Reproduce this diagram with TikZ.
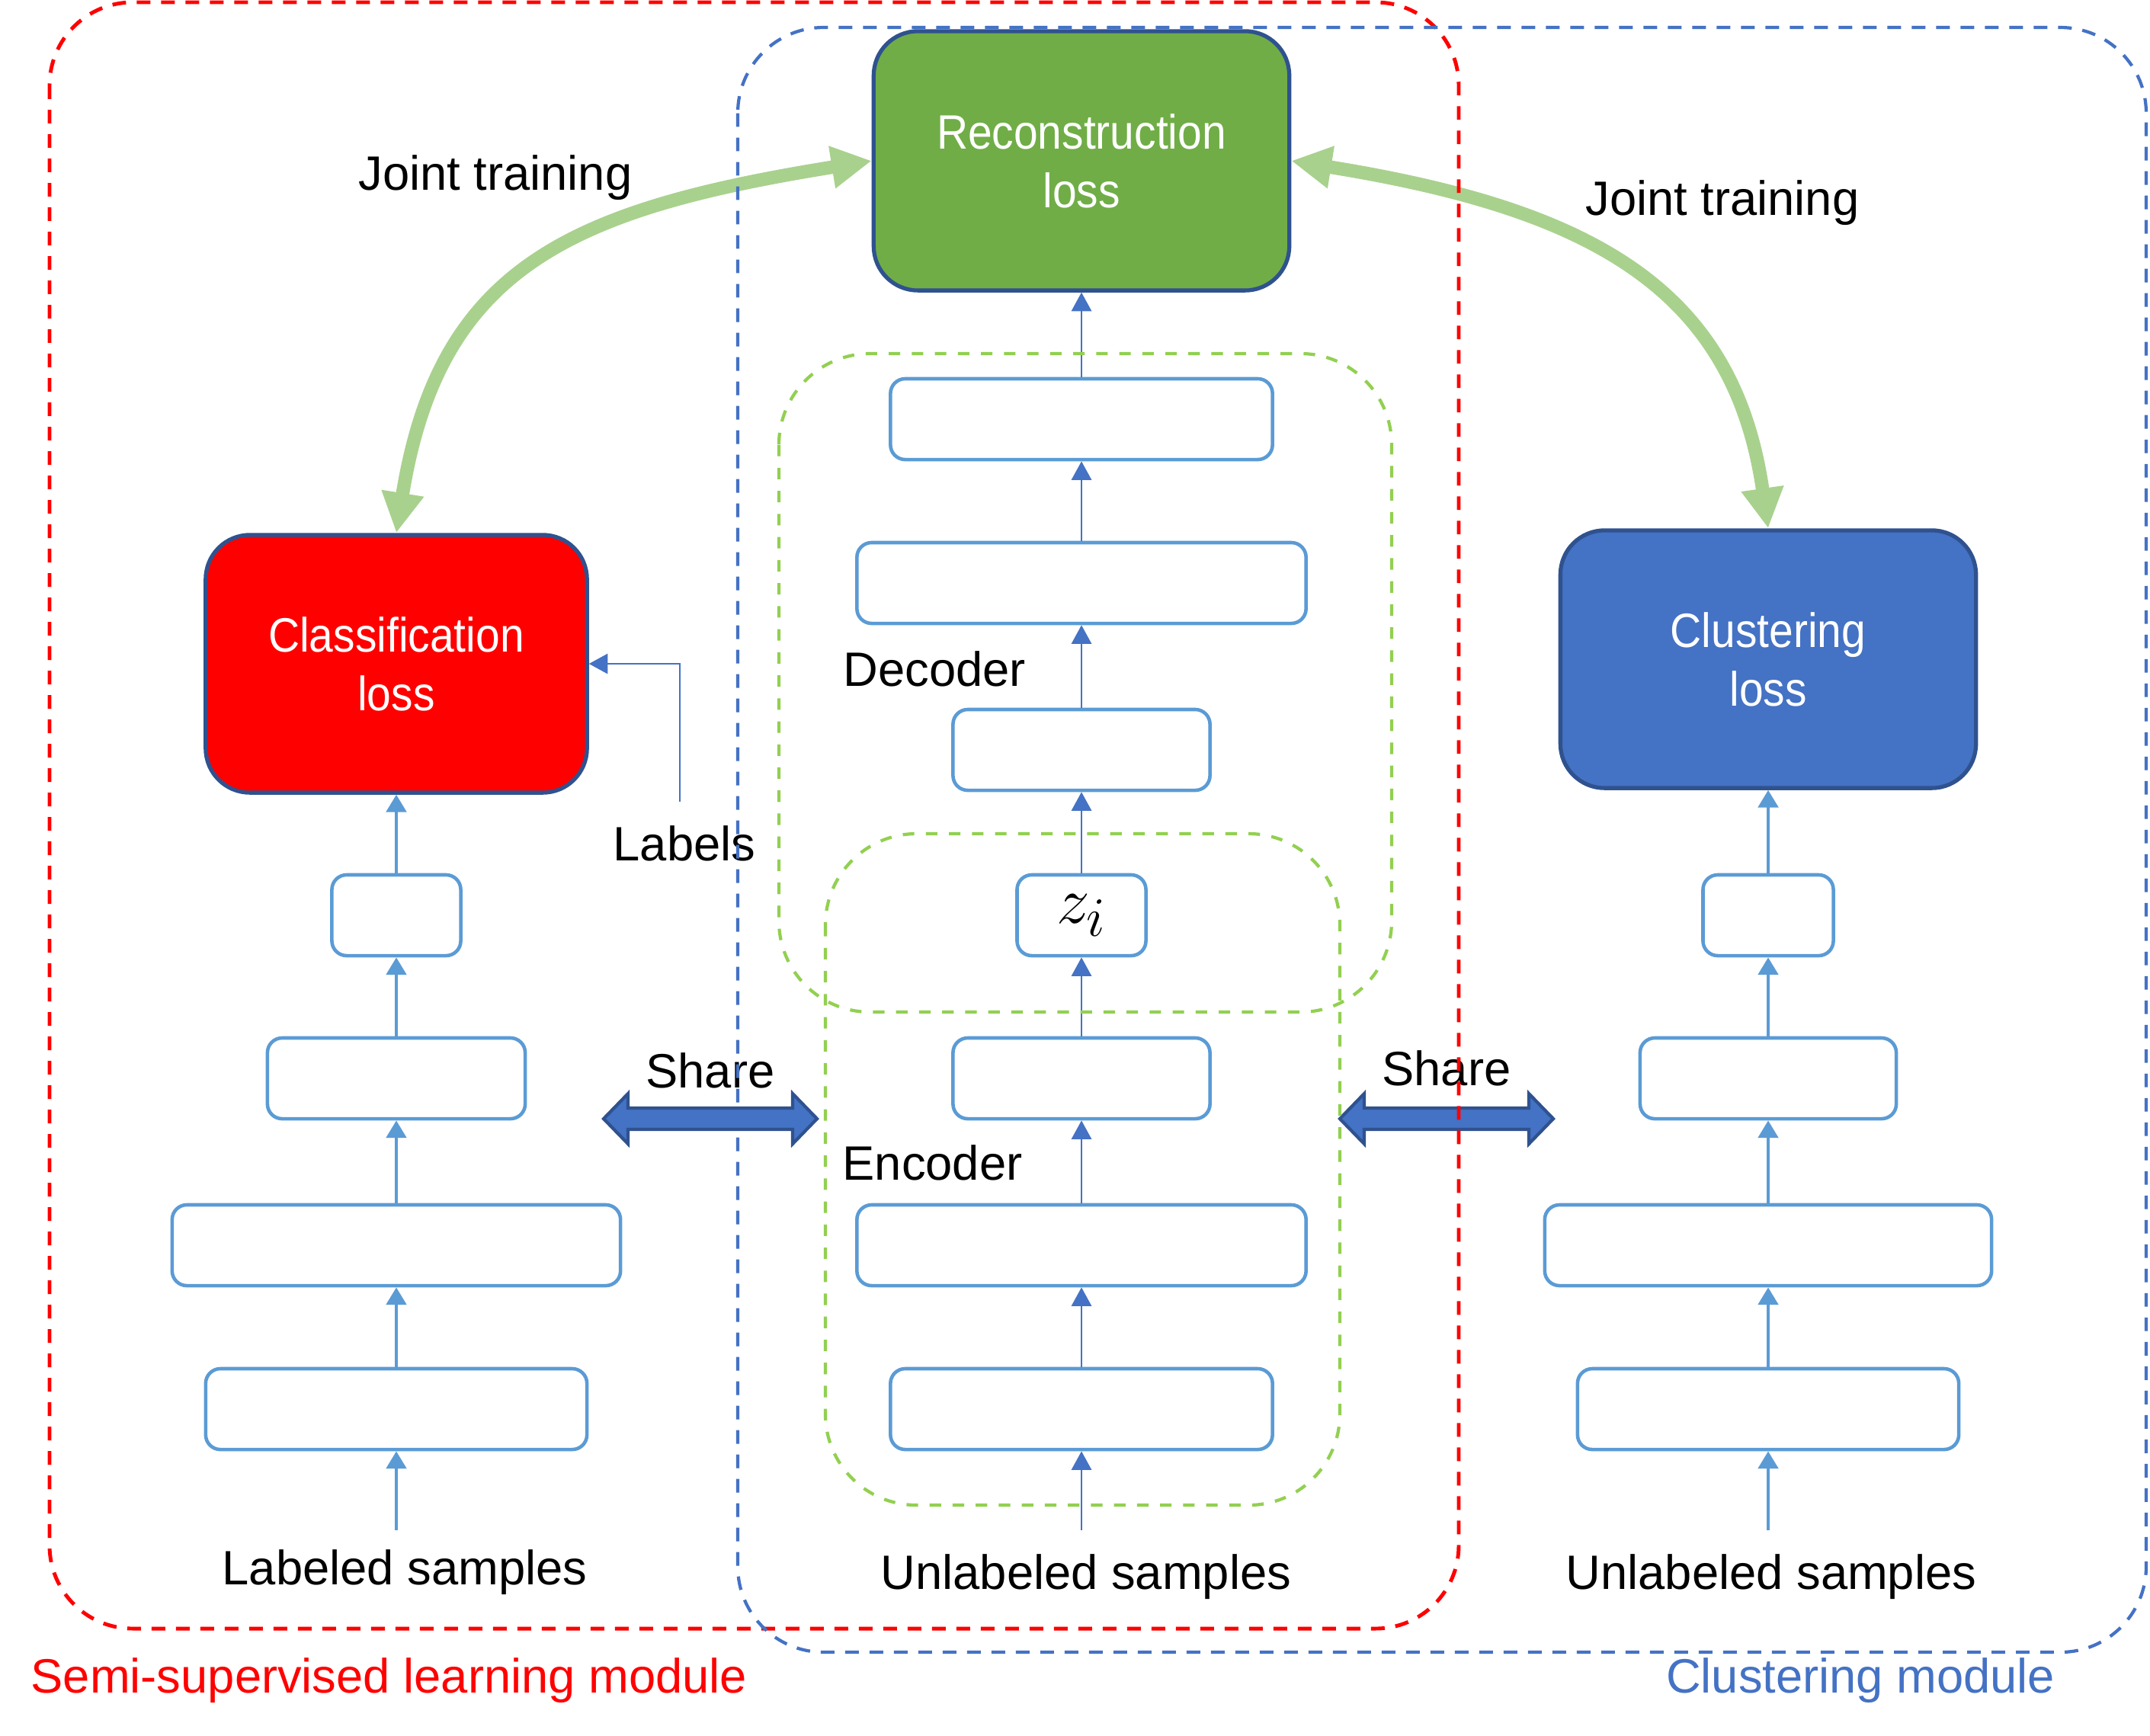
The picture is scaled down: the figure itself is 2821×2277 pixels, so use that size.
\documentclass[tikz,border=0pt]{standalone}
\usepackage{fontspec}
\setmainfont{Liberation Sans}
\usepackage{graphicx}
\usetikzlibrary{arrows.meta}
\definecolor{lblue}{HTML}{5B9BD5}
\definecolor{mblue}{HTML}{4472C4}
\definecolor{dblue}{HTML}{2F528F}
\definecolor{jgreen}{HTML}{A9D18E}
\definecolor{lossgreen}{HTML}{70AD47}
\definecolor{regreen}{HTML}{92D050}
\definecolor{pured}{HTML}{FF0000}
\newcommand{\lt}[1]{\scalebox{0.9}[1]{#1}}
\begin{document}
\begin{tikzpicture}[x=0.01cm,y=-0.01cm,
  lbl/.style={font=\fontsize{18}{21.9}\selectfont, inner sep=0pt},
  layer/.style={draw=lblue, line width=1.3pt, rounded corners=5.5pt, fill=white, minimum height=1.06cm, inner sep=0pt},
  loss/.style={draw=dblue, line width=1.5pt, rounded corners=16.5pt, text=white, align=center, inner sep=0pt, font=\fontsize{18}{21.9}\selectfont},
  carrow/.style={draw=mblue, line width=0.6pt, -{Triangle[length=7pt,width=7.5pt]}},
  sarrow/.style={draw=lblue, line width=1.2pt, -{Triangle[length=6.5pt,width=7.5pt]}},
  jarrow/.style={draw=jgreen, line width=5pt, {Triangle[length=15pt,width=15pt]}-{Triangle[length=15pt,width=15pt]}},
  sharestyle/.style={fill=mblue, draw=dblue, line width=1.2pt, line join=miter},
  redreg/.style={draw=pured, line width=1.4pt, dash pattern=on 5.1pt off 4pt, rounded corners=31pt},
  bluereg/.style={draw=mblue, line width=1.2pt, dash pattern=on 5.1pt off 4pt, rounded corners=32pt},
  greenreg/.style={draw=regreen, line width=1.2pt, dash pattern=on 4.3pt off 4.3pt, rounded corners=34pt}
]
\useasboundingbox (0,0) rectangle (2821,2277);

% Share arrows
\draw[sharestyle] (792,1468) -- (824,1435) -- (824,1454) -- (1040,1454) -- (1040,1435) -- (1072,1468) -- (1040,1501) -- (1040,1482) -- (824,1482) -- (824,1501) -- cycle;
\draw[sharestyle] (1758,1468) -- (1790,1435) -- (1790,1454) -- (2006,1454) -- (2006,1435) -- (2038,1468) -- (2006,1501) -- (2006,1482) -- (1790,1482) -- (1790,1501) -- cycle;

% Loss boxes
\node[loss, fill=lossgreen, minimum width=5.45cm, minimum height=3.40cm] (rloss) at (1419,211) {\lt{Reconstruction}\\\lt{loss}};
\node[loss, fill=pured, minimum width=5.00cm, minimum height=3.38cm] (closs) at (520,871) {\lt{Classification}\\\lt{loss}};
\node[loss, fill=mblue, minimum width=5.45cm, minimum height=3.38cm] (kloss) at (2320,865) {\lt{Clustering}\\\lt{loss}};

% Center column
\node[layer, minimum width=5.01cm] (d1) at (1419,550) {};
\node[layer, minimum width=5.89cm] (d2) at (1419,765) {};
\node[layer, minimum width=3.37cm] (d3) at (1419,984) {};
\node[layer, minimum width=1.69cm] (z) at (1419,1201) {\fontsize{28}{32}\selectfont$z_i$};
\node[layer, minimum width=3.37cm] (e1) at (1419,1415) {};
\node[layer, minimum width=5.89cm] (e2) at (1419,1634) {};
\node[layer, minimum width=5.01cm] (e3) at (1419,1849) {};
\coordinate (cin) at (1419,2008);

% Left column
\node[layer, minimum width=1.69cm] (ls) at (520,1201) {};
\node[layer, minimum width=3.38cm] (l1) at (520,1415) {};
\node[layer, minimum width=5.88cm] (l2) at (520,1634) {};
\node[layer, minimum width=5.00cm] (l3) at (520,1849) {};
\coordinate (lin) at (520,2008);

% Right column
\node[layer, minimum width=1.71cm] (rs) at (2320,1201) {};
\node[layer, minimum width=3.36cm] (r1) at (2320,1415) {};
\node[layer, minimum width=5.86cm] (r2) at (2320,1634) {};
\node[layer, minimum width=5.00cm] (r3) at (2320,1849) {};
\coordinate (rin) at (2320,2008);

% Center arrows
\draw[carrow] (cin) -- (e3.south);
\draw[carrow] (e3.north) -- (e2.south);
\draw[carrow] (e2.north) -- (e1.south);
\draw[carrow] (e1.north) -- (z.south);
\draw[carrow] (z.north) -- (d3.south);
\draw[carrow] (d3.north) -- (d2.south);
\draw[carrow] (d2.north) -- (d1.south);
\draw[carrow] (d1.north) -- (rloss.south);

% Left arrows
\draw[sarrow] (lin) -- (l3.south);
\draw[sarrow] (l3.north) -- (l2.south);
\draw[sarrow] (l2.north) -- (l1.south);
\draw[sarrow] (l1.north) -- (ls.south);
\draw[sarrow] (ls.north) -- (closs.south);

% Right arrows
\draw[sarrow] (rin) -- (r3.south);
\draw[sarrow] (r3.north) -- (r2.south);
\draw[sarrow] (r2.north) -- (r1.south);
\draw[sarrow] (r1.north) -- (rs.south);
\draw[sarrow] (rs.north) -- (kloss.south);

% Labels arrow
\coordinate (lab) at (892,1052);
\draw[carrow] (lab) |- (closs.east);

% Joint training arrows
\draw[jarrow] (rloss.west) .. controls (746,275) and (576,352) .. (closs.north);
\draw[jarrow] (rloss.east) .. controls (2091,275) and (2275,380) .. (kloss.north);

% Texts
\node[lbl] (jt1) at (650,233) {Joint training};
\node[lbl] (jt2) at (2260,266) {Joint training};
\node[lbl] (sh1) at (932,1405) {Share};
\node[lbl] (sh2) at (1898,1402) {Share};
\node[lbl, anchor=west] (dec) at (1106,878) {Decoder};
\node[lbl, anchor=west] (enc) at (1105,1526) {Encoder};
\node[lbl] (labt) at (898,1107) {Labels};
\node[lbl] (t1) at (531,2063) {Labeled samples};
\node[lbl] (t2) at (1425,2069) {Unlabeled samples};
\node[lbl] (t3) at (2324,2069) {Unlabeled samples};
\node[lbl, text=pured, anchor=west] (m1) at (40,2205) {Semi-supervised learning module};
\node[lbl, text=mblue, anchor=east] (m2) at (2697,2205) {Clustering module};

% Regions
\draw[greenreg] (1022,464) rectangle (1826,1328);
\draw[greenreg] (1083,1094) rectangle (1758,1975);
\draw[redreg] (65,3) rectangle (1914,2137);
\draw[bluereg] (968,36) rectangle (2816,2168);
\end{tikzpicture}
\end{document}
